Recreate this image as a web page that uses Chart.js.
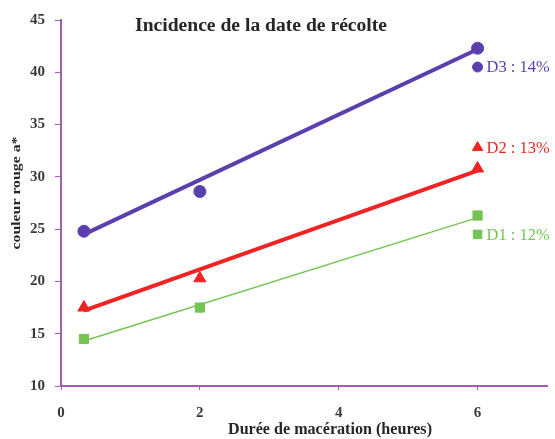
<!DOCTYPE html>
<html>
<head>
<meta charset="utf-8">
<script src="https://cdn.jsdelivr.net/npm/chart.js@4"></script>
<style>
  html, body { margin: 0; padding: 0; background: #fff; }
  #wrap { width: 555px; height: 439px; }
</style>
</head>
<body>
<div id="wrap"><canvas id="myChart" width="555" height="439"></canvas></div>
<script>
// values
const durees = [0.33, 2, 6];
const d1 = [14.5, 17.5, 26.3];
const d2 = [17.5, 20.3, 30.8];
const d3 = [24.8, 28.6, 42.3];

// trend line end points
const trendX = [0.33, 6];
const trendD1 = [14.3, 26.1];
const trendD2 = [17.2, 30.6];
const trendD3 = [24.5, 42.2];

// inline legend
const labelX = 6;
const labelY = [24.5, 32.8, 40.5];
const labelText = ['D1 : 12%', 'D2 : 13%', 'D3 : 14%'];

const xTicks = [0, 2, 4, 6];

const purple = '#5b3fae';
const red = '#ee2424';
const green = '#74c454';
const axisColor = '#a45cb4';
const serif = '"Liberation Serif", "DejaVu Serif", serif';

const pts = (xs, ys) => xs.map((x, i) => ({ x: x, y: ys[i] }));

// draws text stretched to a given length
function stretched(c, text, x, y, len, rot) {
    const w = c.measureText(text).width;
    c.save();
    c.translate(x, y);
    if (rot) c.rotate(rot);
    c.scale(len / w, 1);
    c.fillText(text, 0, 0);
    c.restore();
}

const textPlugin = {
    id: 'texts',
    afterDatasetsDraw(chart) {
        const c = chart.ctx;
        const xs = chart.scales.x, ys = chart.scales.y;
        c.save();
        c.textAlign = 'center';
        c.textBaseline = 'middle';
        c.fillStyle = '#262626';

        c.font = 'bold 18px ' + serif;
        stretched(c, 'Incidence de la date de récolte', 261, 26, 252, 0);

        c.font = 'bold 16px ' + serif;
        stretched(c, 'Durée de macération (heures)', 330, 430, 204, 0);

        c.font = 'bold 12px ' + serif;
        stretched(c, 'couleur rouge a*', 17, 193, 113, -Math.PI / 2);

        const cols = [green, red, purple];
        c.font = '16px ' + serif;
        c.textAlign = 'left';
        labelText.forEach((t, i) => {
            c.fillStyle = cols[i];
            stretched(c, t, xs.getPixelForValue(labelX) + 9, ys.getPixelForValue(labelY[i]) + 1, 63, 0);
        });
        c.restore();
    }
};

const ctx = document.getElementById('myChart').getContext('2d');
let myChart = new Chart(ctx, {
    type: 'scatter',
    data: {
        datasets: [
            { data: pts(trendX, trendD3), showLine: true, borderColor: purple, borderWidth: 4, pointRadius: 0 },
            { data: pts(trendX, trendD2), showLine: true, borderColor: red, borderWidth: 4, pointRadius: 0 },
            { data: pts(trendX, trendD1), showLine: true, borderColor: green, borderWidth: 1.5, pointRadius: 0 },
            { data: pts(durees, d3), pointStyle: 'circle', pointRadius: 6, backgroundColor: purple, borderColor: purple },
            { data: pts(durees, d2), pointStyle: 'triangle', pointRadius: 7, backgroundColor: red, borderColor: red },
            { data: pts(durees, d1), pointStyle: 'rect', pointRadius: 6.5, backgroundColor: green, borderColor: green },
            { data: [{ x: labelX, y: labelY[2] }], pointStyle: 'circle', pointRadius: 5, backgroundColor: purple, borderColor: purple },
            { data: [{ x: labelX, y: labelY[1] }], pointStyle: 'triangle', pointRadius: 6, backgroundColor: red, borderColor: red },
            { data: [{ x: labelX, y: labelY[0] }], pointStyle: 'rect', pointRadius: 6, backgroundColor: green, borderColor: green }
        ]
    },
    options: {
        responsive: false,
        animation: false,
        layout: { padding: { top: 20, right: 8, left: 0, bottom: 0 } },
        plugins: {
            legend: { display: false },
            tooltip: { enabled: false }
        },
        scales: {
            x: {
                type: 'linear',
                min: 0,
                max: 7,
                afterBuildTicks: s => { s.ticks = xTicks.map(v => ({ value: v })); },
                afterFit: s => { s.height = 53; },
                border: { color: axisColor, width: 2 },
                grid: { drawOnChartArea: false, drawTicks: true, tickLength: 4, color: axisColor },
                ticks: { color: '#3a3a3a', font: { family: serif, size: 15, weight: 'bold' }, padding: 14 }
            },
            y: {
                min: 10,
                max: 45,
                afterFit: s => { s.width = 61; },
                border: { color: axisColor, width: 2 },
                grid: { drawOnChartArea: false, drawTicks: true, tickLength: 6, color: axisColor },
                ticks: { stepSize: 5, color: '#3a3a3a', font: { family: serif, size: 15, weight: 'bold' }, padding: 10 }
            }
        }
    },
    plugins: [textPlugin]
});
</script>
</body>
</html>
